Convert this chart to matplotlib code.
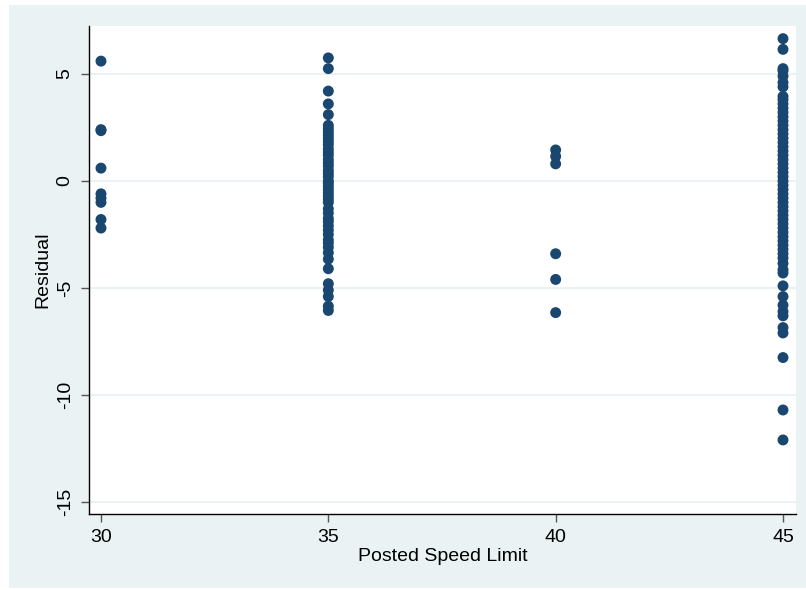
import numpy as np
import matplotlib
matplotlib.use('Agg')
import matplotlib.pyplot as plt
from matplotlib.patches import Rectangle

plt.rcParams['font.family'] = ['Liberation Sans', 'DejaVu Sans']
plt.rcParams['axes.unicode_minus'] = False

# residuals, grouped by speed limit
res_30 = [5.6, 2.4, 2.35, 0.6, -0.6, -0.8, -1.0, -1.8, -2.2]
res_35 = [5.75, 5.25, 4.2, 3.6, 3.1, 2.6, 2.45, 2.3, 2.15, 2.0, 1.85, 1.7, 1.5,
          1.35, 1.2, 1.0, 0.85, 0.7, 0.5, 0.35, 0.2, 0.0, -0.1, -0.25, -0.4,
          -0.55, -0.7, -0.85, -1.0, -1.3, -1.5, -1.75, -1.9, -2.1, -2.3,
          -2.5, -2.75, -2.9, -3.1, -3.35, -3.65, -4.1, -4.8, -5.1, -5.4,
          -5.85, -6.05]
res_40 = [1.45, 1.15, 0.8, -3.4, -4.6, -6.15]
res_45 = [6.65, 6.15, 5.25, 5.15, 4.9, 4.6, 4.4, 3.95, 3.8, 3.6, 3.4, 3.2, 3.0,
          2.8, 2.6, 2.4, 2.2, 2.0, 1.8, 1.6, 1.4, 1.2, 1.0, 0.8, 0.6, 0.4,
          0.2, 0.0, -0.2, -0.4, -0.6, -0.8, -1.0, -1.2, -1.4, -1.6, -1.8,
          -2.0, -2.2, -2.4, -2.6, -2.8, -3.0, -3.2, -3.4, -3.6, -3.85, -4.15,
          -4.3, -4.9, -5.4, -5.8, -6.1, -6.3, -6.85, -7.1, -8.25, -10.7, -12.1]

speed = [30, 35, 40, 45]
groups = [res_30, res_35, res_40, res_45]

x_vals = []
y_vals = []
for s, g in zip(speed, groups):
    x_vals += [s] * len(g)
    y_vals += g

bg = '#eaf2f3'
navy = '#1a476f'

fig = plt.figure(figsize=(8.06, 5.90), dpi=100)
fig.patch.set_facecolor('white')
fig.add_artist(Rectangle((0.0112, 0.0034), 0.9888, 0.988, transform=fig.transFigure,
                         facecolor=bg, edgecolor='none', zorder=-10))

ax = fig.add_axes([0.1104, 0.1288, 0.8772, 0.8271])
ax.set_zorder(1)
ax.set_facecolor('white')
ax.scatter(x_vals, y_vals, s=62, color=navy, edgecolors='none', zorder=3)

ax.set_xlim(29.736, 45.286)
ax.set_ylim(-15.56, 7.24)
ax.set_xticks(speed)
ax.set_yticks([-15, -10, -5, 0, 5])
ax.grid(axis='y', color=bg, linewidth=1.5, zorder=0)
ax.set_axisbelow(True)

for side in ['top', 'right']:
    ax.spines[side].set_visible(False)
for side in ['left', 'bottom']:
    ax.spines[side].set_color('black')
    ax.spines[side].set_linewidth(1.0)

ax.tick_params(axis='both', length=6, width=1, color='#555555', labelsize=14, pad=5)
for lab in ax.get_yticklabels():
    lab.set_rotation(90)
    lab.set_va('center')

ax.set_xlabel('Posted Speed Limit', fontsize=14, labelpad=1)
ax.set_ylabel('Residual', fontsize=14, labelpad=4)

fig.savefig('out.png', dpi=100)
